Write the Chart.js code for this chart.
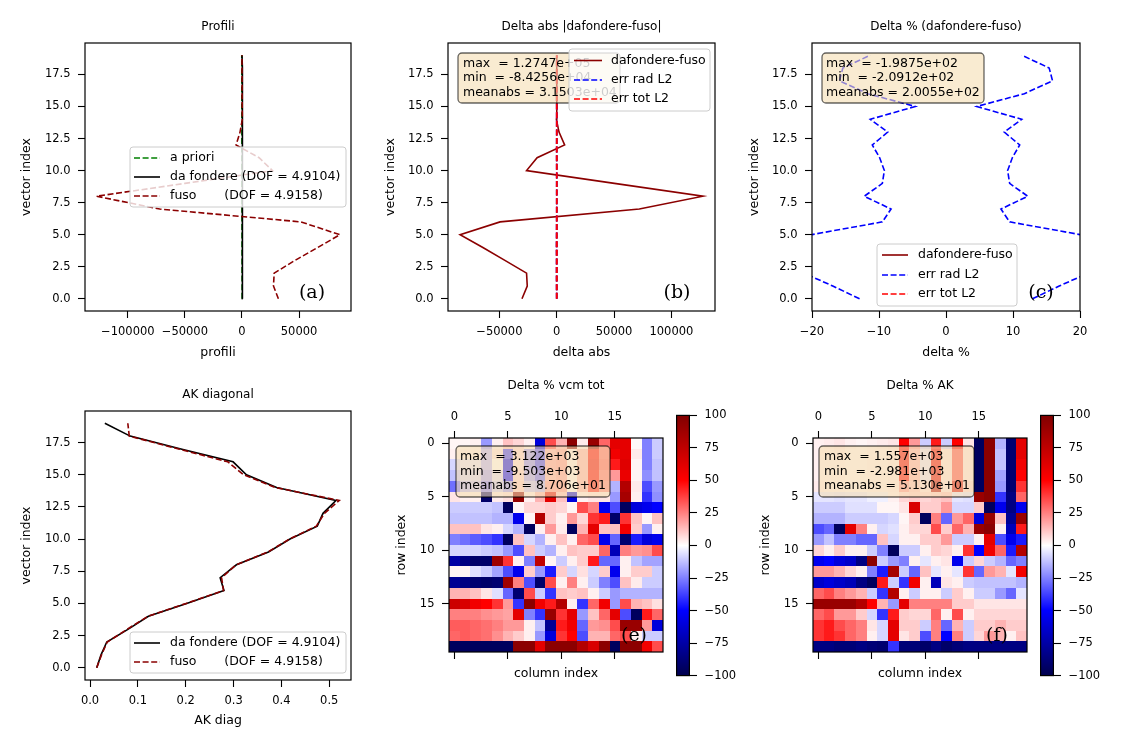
<!DOCTYPE html>
<html>
<head>
<meta charset="utf-8">
<title>Profili</title>
<script src="https://cdn.jsdelivr.net/npm/chart.js@4.4.1/dist/chart.umd.min.js"></script>
<style>
  html, body { margin: 0; padding: 0; background: #fff; }
  #fig { position: relative; width: 1125px; height: 750px; overflow: hidden; background: #fff; }
  #fig canvas { position: absolute; }
</style>
</head>
<body>
<div id="fig">
  <canvas id="c-a"></canvas>
  <canvas id="c-b"></canvas>
  <canvas id="c-c"></canvas>
  <canvas id="c-d"></canvas>
  <canvas id="c-e"></canvas>
  <canvas id="c-f"></canvas>
  <canvas id="cb-e"></canvas>
  <canvas id="cb-f"></canvas>
</div>
<script>
// ---------------- data ----------------
const vectorIndex = [0, 1, 2, 3, 4, 5, 6, 7, 8, 9, 10, 11, 12, 13, 14, 15, 16, 17, 18, 19];

// tick values
const ticksIndex    = [0, 2.5, 5, 7.5, 10, 12.5, 15, 17.5];
const ticksProfili  = [-100000, -50000, 0, 50000];
const ticksDeltaAbs = [-50000, 0, 50000, 100000];
const ticksDeltaPct = [-20, -10, 0, 10, 20];
const ticksAK       = [0, 0.1, 0.2, 0.3, 0.4, 0.5];
const ticksCells    = [0, 5, 10, 15];
const ticksCbar     = [-100, -75, -50, -25, 0, 25, 50, 75, 100];

// profili
const aPriori   = [120, 110, 95, 80, 60, 45, 30, 10, -10, -25, -40, -60, -75, -90, -105, -120, -135, -150, -160, -170];
const daFondere = [600, 700, 650, 500, 700, 550, 750, 300, 70, 300, 400, 350, 500, 300, 150, 200, 200, 100, 50, 20];
const fuso      = [31900, 27600, 28200, 46500, 66300, 85800, 51500, -72000, -127400, -50000, 26700, 15000, -5200, -1700, 300, 200, 100, 100, 0, 0];

// delta abs
const deltaAbs  = [-30300, -25700, -26300, -45200, -64400, -84256, -49400, 72000, 127470, 50300, -26300, -17100, 6900, 2000, -300, 0, 100, 0, 50, 20];
const errRadAbs = [110, 160, 200, 165, 220, 155, 100, 5, 9, 30, 37, 105, 95, 26, 5, 9, 23, 16, 8, 2];
const errTotAbs = [130, 165, 190, 145, 245, 145, 120, 1, 10, 33, 43, 125, 110, 30, 7, 13, 27, 17, 8, 3];

// delta %
const deltaPct  = [-201.2, -200.4, -199.9, -200.6, -201.1, -209.12, -202.3, -198.75, -199.4, -200.3, -200.8, -199.3, -200.5, -199.6, -200.1, -199.2, -200.9, -201.4, -199.8, -200.3];
const errRadPct = [12.9, 16.9, 21.2, 25.0, 23.0, 20.1, 9.5, 8.2, 12.2, 9.5, 9.2, 9.9, 11.0, 8.7, 11.3, 4.6, 11.7, 15.9, 15.4, 11.3];
const errTotPct = [48, 52, 60, 66, 63, 57, 35, 31, 41, 33, 32, 35, 38, 30, 39, 24, 40, 52, 50, 39];

// AK diagonal
const akDaFondere = [0.014, 0.023, 0.035, 0.080, 0.122, 0.202, 0.280, 0.272, 0.306, 0.373, 0.418, 0.475, 0.487, 0.514, 0.390, 0.327, 0.299, 0.190, 0.084, 0.031];
const akFuso      = [0.014, 0.024, 0.036, 0.078, 0.121, 0.201, 0.279, 0.275, 0.305, 0.372, 0.417, 0.473, 0.490, 0.521, 0.388, 0.321, 0.288, 0.185, 0.082, 0.079];

// Delta % vcm tot (rows 0..19, columns 0..19)
const vcmTot = [
  [2, 2, 3, -20, 3, 12, 8, 3, -60, 35, 15, 95, 4, 90, 30, 60, 60, 1, -25, -10],
  [3, 3, 3, -15, 5, -40, 8, -20, -35, 15, 18, 3, 15, 50, 30, 55, 60, 4, -25, -10],
  [-8, -5, -5, -15, 0, -55, 6, -22, -38, 18, 20, 3, 15, 55, 32, 45, 62, 2, -25, -12],
  [-12, -8, -8, -18, -6, -50, 8, -18, -30, 15, 18, 2, 15, 50, 28, 20, 58, 2, -22, -12],
  [-28, -15, -12, -25, -10, -20, 10, -12, -15, 20, 20, 0, 15, 45, 25, -15, 80, 4, -35, -20],
  [5, 3, 3, -92, 4, 6, 92, 3, 15, 60, 12, -60, 3, 5, 5, -20, 85, 3, -40, -22],
  [-10, -10, -10, -10, -12, -95, 2, 8, 8, 10, 8, 2, 35, 25, -55, -35, -95, -60, -55, -50],
  [-12, -12, -12, -12, -15, -15, -55, 2, 80, 10, 3, 20, 8, 40, 45, -92, 40, 12, 2, 12],
  [12, 12, 12, 5, 3, -8, -15, -95, 3, 20, 4, -95, 15, 60, 12, 12, 55, 10, -20, 3],
  [-25, -28, -32, -35, -40, -95, 12, -8, -15, 3, 12, 3, 30, 35, -55, -30, -90, -45, -60, -55],
  [-8, -8, -8, -10, -12, -20, -35, 12, -10, -15, 3, 12, 10, 10, 30, -70, 25, 20, 22, 35],
  [-75, -85, -92, -92, 88, 40, 3, -25, 75, 2, -10, 3, 10, 45, -30, -30, 3, -12, -18, -18],
  [2, 2, -6, -10, -18, -35, -55, 10, -20, -45, 10, -8, 6, -8, 10, -55, 3, 10, 10, -10],
  [-80, -85, -90, -92, -90, 88, 25, -35, -92, 35, 3, 25, 3, -10, -25, -35, 12, 4, -10, -10],
  [15, 15, 12, 5, -6, -30, -90, 35, -10, -40, 12, 10, 12, 3, -10, -20, -15, -15, -15, -15],
  [70, 65, 55, 50, 40, 20, -40, 95, 55, 45, 80, 3, -40, 30, 55, -20, 35, 15, 12, 6],
  [25, 25, 25, 22, 20, 18, 60, -25, -40, 90, 40, 60, -20, 12, 30, 60, -35, -95, 45, 30],
  [32, 32, 30, 28, 25, 20, 20, 3, -12, -80, 45, 55, -30, 20, 22, 35, 90, 90, 20, -60],
  [30, 32, 30, 28, 22, 15, 10, 3, -20, -60, 40, 50, -35, 15, 15, 30, 35, 3, -10, -10],
  [-95, -95, -95, -95, -95, -95, 95, 95, 60, 95, 95, 95, 80, 65, 95, -95, 95, 95, 55, 35]
];

// Delta % AK
const deltaAK = [
  [3, 4, 5, 3, 2, 3, 4, 5, 50, 20, -10, 45, -10, 50, 5, -95, 95, -15, -90, 60],
  [3, 3, 4, 2, 2, 3, 3, 4, 55, 15, -5, 55, 5, 35, 5, -95, 95, -12, -90, 60],
  [3, 3, 3, 2, 2, 3, 3, 4, 55, 15, -5, 55, 5, 35, 5, -95, 95, -12, -90, 55],
  [3, 3, 3, 2, 2, 3, 3, 4, 50, 15, -5, 60, 5, 35, 5, -95, 95, -18, -90, 50],
  [4, 3, 3, 2, 2, 3, 3, 4, 20, 12, 5, 80, 5, 65, 8, -95, 95, -20, -90, 40],
  [-5, -5, -6, -5, -5, -3, -3, 3, 8, 10, 8, 10, 12, -5, -6, 90, 95, -40, -85, 30],
  [-10, -10, -10, -6, -6, -6, 2, 2, 5, 65, 10, 10, 20, -8, -8, 10, -95, -55, -85, -55],
  [-15, -15, -15, -10, -10, -10, -10, -8, 2, 10, -95, 25, -30, 20, 30, -60, 90, 12, -80, 90],
  [-35, -30, -95, 60, 25, 3, -8, -6, 3, 8, 8, 35, 10, 30, 15, 90, 95, 3, -70, 45],
  [-20, -12, -25, -25, -30, -30, 12, -8, 3, 3, 10, 10, 20, -10, -10, 3, 60, -35, -55, -45],
  [8, 3, 10, 3, 3, -10, -25, -95, -10, -10, 3, 10, 8, 3, 40, -50, 55, 30, -45, 80],
  [-55, -50, -60, -65, -85, 95, -10, -20, -25, 3, -5, 3, 5, -55, -10, 8, -10, -15, -30, -25],
  [20, 20, 15, 8, 3, -25, -45, 85, -10, -30, 12, -5, 3, -5, 40, -30, 20, 15, -5, 55],
  [-65, -60, -65, -70, -85, -95, 45, -10, -40, 55, 3, -70, 5, 3, -10, -12, -12, -12, -12, -15],
  [30, 35, 25, 20, 15, -10, -40, 80, 3, -10, 3, 3, -10, 10, 3, -10, -10, -20, -30, -5],
  [90, 90, 90, 90, 80, 50, 15, -20, 60, 25, 25, 25, 25, 10, 10, 5, 5, 5, 5, 5],
  [30, 35, 20, 20, 10, -8, -40, 45, 10, 8, 8, 30, 3, 35, 3, 8, 8, 8, 8, 8],
  [40, 45, 35, 30, 25, 5, -8, 60, 10, 10, -10, 25, -30, 15, -10, 10, 10, 15, 10, 10],
  [40, 45, 40, 30, 25, 3, -8, 60, 5, 10, -35, 25, -50, 25, -10, 8, 20, 15, 3, 12],
  [-85, -85, -88, -88, -85, -88, -90, -40, -88, -88, -92, -85, -92, -88, -85, -85, -85, -85, -85, -85]
];

const statsB = ['max  = 1.2747e+05', 'min  = -8.4256e+04', 'meanabs = 3.1503e+04'];
const statsC = ['max  = -1.9875e+02', 'min  = -2.0912e+02', 'meanabs = 2.0055e+02'];
const statsE = ['max  = 3.122e+03', 'min  = -9.503e+03', 'meanabs = 8.706e+01'];
const statsF = ['max  = 1.557e+03', 'min  = -2.981e+03', 'meanabs = 5.130e+01'];

// ---------------- helpers ----------------
const FAM = '"DejaVu Sans"';
const FS = 11.5;      // tick labels
const FT = 12;        // titles
const FL = 12.5;      // axis labels, legends, text boxes
Chart.defaults.font.family = FAM;
Chart.defaults.font.size = FS;
Chart.defaults.color = '#000';

const DASH = [6, 2.6];
const minus = v => String(v).replace('-', '\u2212');

function pts(xs) { return xs.map((v, i) => ({ x: v, y: vectorIndex[i] })); }
function neg(xs) { return xs.map(v => -v); }

function seismic(v) {
  const t = (Math.max(-100, Math.min(100, v)) + 100) / 200 * 4;
  const stops = [[0, 0, 0.3], [0, 0, 1], [1, 1, 1], [1, 0, 0], [0.5, 0, 0]];
  const i = Math.min(3, Math.floor(t)), f = t - i;
  const c = stops[i].map((a, k) => Math.round(255 * (a + (stops[i + 1][k] - a) * f)));
  return 'rgb(' + c.join(',') + ')';
}

const tickOpts = cb => ({
  autoSkip: false, maxRotation: 0, padding: 7.5, callback: cb,
  font: { family: FAM, size: FS }, color: '#000'
});
const fixedTicks = list => (s => { s.ticks = list.map(v => ({ value: v })); });
const gridOpts = { display: true, drawOnChartArea: false, drawTicks: true, tickLength: 7, tickWidth: 1.1, tickColor: '#000' };

// frame, titles, labels, text boxes and legends
const decor = {
  id: 'decor',
  afterDatasetsDraw(chart, args, o) {
    const ctx = chart.ctx, a = chart.chartArea, ox = o.ox, oy = o.oy;
    ctx.save();
    ctx.strokeStyle = '#000';
    ctx.lineWidth = 1.2;
    ctx.strokeRect(a.left, a.top, a.right - a.left, a.bottom - a.top);

    ctx.fillStyle = '#000';
    ctx.textAlign = 'center';
    ctx.textBaseline = 'middle';
    const cx = (a.left + a.right) / 2, cy = (a.top + a.bottom) / 2;
    ctx.font = FT + 'px ' + FAM;
    if (o.title) ctx.fillText(o.title, cx, o.titleY - oy);
    ctx.font = FL + 'px ' + FAM;
    if (o.xlabel) ctx.fillText(o.xlabel, cx, o.xlabelY - oy);
    if (o.ylabel) {
      ctx.save();
      ctx.translate(o.ylabelX - ox, cy);
      ctx.rotate(-Math.PI / 2);
      ctx.fillText(o.ylabel, 0, 0);
      ctx.restore();
    }
    if (o.box) {
      const b = o.box;
      ctx.beginPath();
      ctx.roundRect(b.x - ox, b.y - oy, b.w, b.h, 4);
      ctx.fillStyle = 'rgba(245,222,179,0.6)';
      ctx.fill();
      ctx.strokeStyle = 'rgba(0,0,0,0.6)';
      ctx.lineWidth = 1.3;
      ctx.stroke();
      ctx.fillStyle = '#000';
      ctx.textAlign = 'left';
      b.lines.forEach((t, i) => ctx.fillText(t, b.tx - ox, b.rows[i] - oy));
    }
    if (o.legend) {
      const lg = o.legend;
      ctx.beginPath();
      ctx.roundRect(lg.x - ox, lg.y - oy, lg.w, lg.h, 3);
      ctx.fillStyle = 'rgba(255,255,255,0.8)';
      ctx.fill();
      ctx.strokeStyle = '#cccccc';
      ctx.lineWidth = 1;
      ctx.stroke();
      const items = chart.data.datasets.filter(d => d.inLegend);
      items.forEach((d, i) => {
        const y = lg.rows[i] - oy;
        ctx.beginPath();
        ctx.setLineDash(d.borderDash || []);
        ctx.lineDashOffset = 0;
        ctx.strokeStyle = d.borderColor;
        ctx.lineWidth = d.borderWidth;
        ctx.moveTo(lg.lx0 - ox, y);
        ctx.lineTo(lg.lx1 - ox, y);
        ctx.stroke();
        ctx.setLineDash([]);
        ctx.fillStyle = '#000';
        ctx.textAlign = 'left';
        ctx.fillText(d.label, lg.tx - ox, y);
      });
    }
    if (o.letter) {
      ctx.font = '19px "DejaVu Serif"';
      ctx.fillStyle = '#000';
      ctx.textAlign = 'center';
      ctx.fillText(o.letter, o.letterX - ox, o.letterY - oy);
    }
    ctx.restore();
  }
};

// matrix cells through the x / y scales
const heat = {
  id: 'heat',
  beforeDatasetsDraw(chart, args, o) {
    if (!o.matrix) return;
    const ctx = chart.ctx, xs = chart.scales.x, ys = chart.scales.y;
    ctx.save();
    o.matrix.forEach((row, r) => row.forEach((v, c) => {
      const x0 = Math.round(xs.getPixelForValue(c - 0.5)), x1 = Math.round(xs.getPixelForValue(c + 0.5));
      const y0 = Math.round(ys.getPixelForValue(r - 0.5)), y1 = Math.round(ys.getPixelForValue(r + 0.5));
      ctx.fillStyle = seismic(v);
      ctx.fillRect(Math.min(x0, x1), Math.min(y0, y1), Math.abs(x1 - x0), Math.abs(y1 - y0));
    }));
    ctx.restore();
  }
};

// colour bar gradient drawn along the y scale
const cbar = {
  id: 'cbar',
  beforeDatasetsDraw(chart) {
    const ctx = chart.ctx, a = chart.chartArea, ys = chart.scales.y;
    const g = ctx.createLinearGradient(0, ys.getPixelForValue(-100), 0, ys.getPixelForValue(100));
    ticksCbar.forEach(v => g.addColorStop((v + 100) / 200, seismic(v)));
    ctx.save();
    ctx.fillStyle = g;
    ctx.fillRect(a.left, a.top, a.right - a.left, a.bottom - a.top);
    ctx.strokeStyle = '#000';
    ctx.lineWidth = 1.2;
    ctx.strokeRect(a.left + 0.6, a.top, a.right - a.left - 1.2, a.bottom - a.top);
    ctx.restore();
  }
};

function place(id, left, top, w, h) {
  const cv = document.getElementById(id);
  cv.width = w; cv.height = h;
  cv.style.left = left + 'px'; cv.style.top = top + 'px';
  return cv;
}

// order: lower numbers are painted last (on top), as in the original plot order
function line(label, data, color, dash, inLegend, order) {
  return {
    label, data, borderColor: color, backgroundColor: color, borderWidth: 1.6,
    borderDash: dash || [], showLine: true, pointRadius: 0, tension: 0, inLegend, order
  };
}

const yIndexAxis = {
  type: 'linear', min: -0.95, max: 19.95,
  ticks: tickOpts(v => v.toFixed(1)),
  afterBuildTicks: fixedTicks(ticksIndex),
  grid: gridOpts, border: { display: false },
  afterFit: s => { s.width = 80; }
};

function linePanel(id, box, xAxis, datasets, deco) {
  const left = box.L - 80, top = box.T - 40;
  const cv = place(id, left, top, box.R - box.L + 100, box.B - box.T + 100);
  return new Chart(cv, {
    type: 'scatter',
    data: { datasets },
    options: {
      responsive: false, animation: false,
      layout: { padding: { top: 40, right: 20, left: 0, bottom: 0 } },
      plugins: {
        legend: { display: false }, tooltip: { enabled: false },
        decor: Object.assign({ ox: left, oy: top }, deco)
      },
      scales: {
        x: Object.assign({
          type: 'linear', position: 'bottom', grid: gridOpts, border: { display: false },
          afterFit: s => { s.height = 60; }
        }, xAxis),
        y: yIndexAxis
      }
    },
    plugins: [decor]
  });
}

function heatPanel(id, box, matrix, deco) {
  const left = box.L - 80, top = box.T - 60;
  const cv = place(id, left, top, box.R - box.L + 90, box.B - box.T + 100);
  const cellAxis = (pos, labels, h) => ({
    type: 'linear', position: pos, min: -0.5, max: 19.5,
    ticks: tickOpts(labels ? (v => minus(v)) : (() => '')),
    afterBuildTicks: fixedTicks(ticksCells),
    grid: gridOpts, border: { display: false },
    afterFit: s => { s.height = h; }
  });
  return new Chart(cv, {
    type: 'scatter',
    data: { datasets: [] },
    options: {
      responsive: false, animation: false,
      layout: { padding: { top: 0, right: 10, left: 0, bottom: 0 } },
      plugins: {
        legend: { display: false }, tooltip: { enabled: false },
        heat: { matrix },
        decor: Object.assign({ ox: left, oy: top }, deco)
      },
      scales: {
        x: cellAxis('bottom', false, 40),
        xt: cellAxis('top', true, 60),
        y: {
          type: 'linear', position: 'left', reverse: true, min: -0.5, max: 19.5,
          ticks: tickOpts(v => minus(v)),
          afterBuildTicks: fixedTicks(ticksCells),
          grid: gridOpts, border: { display: false },
          afterFit: s => { s.width = 80; }
        }
      }
    },
    plugins: [heat, decor]
  });
}

function colorBar(id, x) {
  const cv = place(id, x, 401, 64, 289);
  return new Chart(cv, {
    type: 'scatter',
    data: { datasets: [] },
    options: {
      responsive: false, animation: false,
      layout: { padding: { top: 10, bottom: 10, left: 0, right: 0 } },
      plugins: { legend: { display: false }, tooltip: { enabled: false } },
      scales: {
        x: { display: false, min: 0, max: 1 },
        y: {
          type: 'linear', position: 'right', min: -100, max: 100,
          ticks: tickOpts(v => minus(v)),
          afterBuildTicks: fixedTicks(ticksCbar),
          grid: gridOpts, border: { display: false },
          afterFit: s => { s.width = 50; }
        }
      }
    },
    plugins: [cbar]
  });
}

// ---------------- (a) Profili ----------------
linePanel('c-a', { L: 85, T: 43, R: 351, B: 311 },
  { min: -137500, max: 95500, ticks: tickOpts(v => minus(v)), afterBuildTicks: fixedTicks(ticksProfili) },
  [
    line('a priori', pts(aPriori), 'green', DASH, true, 3),
    line('da fondere (DOF = 4.9104)', pts(daFondere), 'black', [], true, 2),
    line('fuso       (DOF = 4.9158)', pts(fuso), '#8b0000', DASH, true, 1)
  ],
  {
    title: 'Profili', titleY: 27, xlabel: 'profili', xlabelY: 353, ylabel: 'vector index', ylabelX: 27,
    letter: '(a)', letterX: 312, letterY: 293,
    legend: { x: 130, y: 147, w: 216, h: 60, rows: [158, 177, 196], lx0: 134, lx1: 160, tx: 170 }
  });

// ---------------- (b) Delta abs ----------------
linePanel('c-b', { L: 448, T: 43, R: 715, B: 311 },
  { min: -94800, max: 138000, ticks: tickOpts(v => minus(v)), afterBuildTicks: fixedTicks(ticksDeltaAbs) },
  [
    line('dafondere-fuso', pts(deltaAbs), '#8b0000', [], true, 5),
    line('err rad L2', pts(errRadAbs), 'blue', DASH, true, 4),
    line('', pts(neg(errRadAbs)), 'blue', DASH, false, 3),
    line('err tot L2', pts(errTotAbs), 'red', DASH, true, 2),
    line('', pts(neg(errTotAbs)), 'red', DASH, false, 1)
  ],
  {
    title: 'Delta abs |dafondere-fuso|', titleY: 27, xlabel: 'delta abs', xlabelY: 353, ylabel: 'vector index', ylabelX: 391,
    letter: '(b)', letterX: 677, letterY: 293,
    box: { x: 458, y: 53, w: 162, h: 50, tx: 463, rows: [63.5, 78, 92.5], lines: statsB },
    legend: { x: 569, y: 49, w: 141, h: 62, rows: [60.5, 80, 99], lx0: 574, lx1: 602, tx: 611 }
  });

// ---------------- (c) Delta % ----------------
linePanel('c-c', { L: 812, T: 43, R: 1080, B: 311 },
  { min: -20, max: 20, ticks: tickOpts(v => minus(v)), afterBuildTicks: fixedTicks(ticksDeltaPct) },
  [
    line('dafondere-fuso', pts(deltaPct), '#8b0000', [], true, 5),
    line('err rad L2', pts(errRadPct), 'blue', DASH, true, 4),
    line('', pts(neg(errRadPct)), 'blue', DASH, false, 3),
    line('err tot L2', pts(errTotPct), 'red', DASH, true, 2),
    line('', pts(neg(errTotPct)), 'red', DASH, false, 1)
  ],
  {
    title: 'Delta % (dafondere-fuso)', titleY: 27, xlabel: 'delta %', xlabelY: 353, ylabel: 'vector index', ylabelX: 755,
    letter: '(c)', letterX: 1041, letterY: 293,
    box: { x: 822, y: 53, w: 162, h: 50, tx: 826, rows: [63.5, 78, 92.5], lines: statsC },
    legend: { x: 877, y: 244, w: 140, h: 62, rows: [255, 275, 294], lx0: 882, lx1: 908, tx: 918 }
  });

// ---------------- (d) AK diagonal ----------------
linePanel('c-d', { L: 85, T: 411, R: 351, B: 680 },
  { min: -0.0105, max: 0.5455, ticks: tickOpts(v => v.toFixed(1)), afterBuildTicks: fixedTicks(ticksAK) },
  [
    line('da fondere (DOF = 4.9104)', pts(akDaFondere), 'black', [], true, 2),
    line('fuso       (DOF = 4.9158)', pts(akFuso), '#8b0000', DASH, true, 1)
  ],
  {
    title: 'AK diagonal', titleY: 395, xlabel: 'AK diag', xlabelY: 721, ylabel: 'vector index', ylabelX: 27,
    legend: { x: 130, y: 632, w: 216, h: 41, rows: [643, 662], lx0: 134, lx1: 160, tx: 170 }
  });

// ---------------- (e) Delta % vcm tot ----------------
heatPanel('c-e', { L: 449, T: 438, R: 663, B: 652 }, vcmTot, {
  title: 'Delta % vcm tot', titleY: 386, xlabel: 'column index', xlabelY: 674, ylabel: 'row index', ylabelX: 402,
  letter: '(e)', letterX: 634, letterY: 636,
  box: { x: 456, y: 446, w: 154, h: 51, tx: 460, rows: [457, 471.5, 486], lines: statsE }
});
colorBar('cb-e', 676);

// ---------------- (f) Delta % AK ----------------
heatPanel('c-f', { L: 813, T: 438, R: 1027, B: 652 }, deltaAK, {
  title: 'Delta % AK', titleY: 386, xlabel: 'column index', xlabelY: 674, ylabel: 'row index', ylabelX: 766,
  letter: '(f)', letterX: 997, letterY: 636,
  box: { x: 819, y: 446, w: 155, h: 51, tx: 824, rows: [457, 471.5, 486], lines: statsF }
});
colorBar('cb-f', 1040);
</script>
</body>
</html>
